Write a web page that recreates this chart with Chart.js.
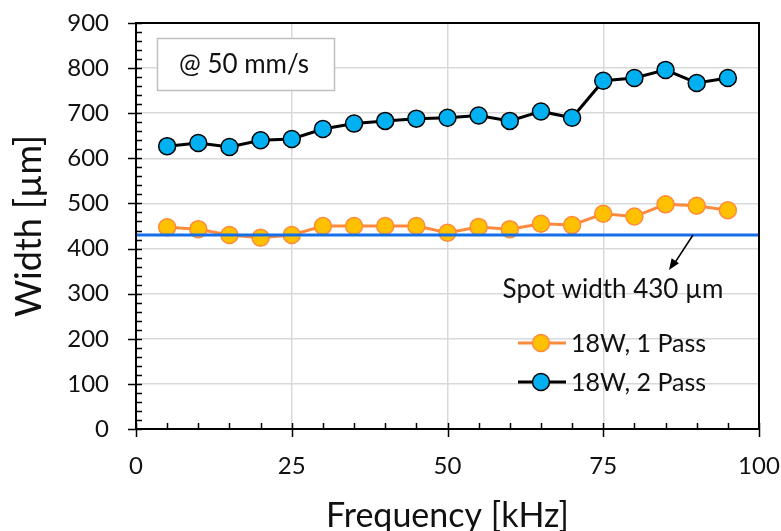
<!DOCTYPE html>
<html>
<head>
<meta charset="utf-8">
<script src="https://cdn.jsdelivr.net/npm/chart.js@4.4.1/dist/chart.umd.min.js"></script>
<style>
  html, body { margin: 0; padding: 0; background: #fff; }
  #wrap { width: 781px; height: 531px; }
</style>
</head>
<body>
<div id="wrap"><canvas id="chart" width="781" height="531"></canvas></div>
<script>
// Data
const frequency = [5, 10, 15, 20, 25, 30, 35, 40, 45, 50, 55, 60, 65, 70, 75, 80, 85, 90, 95];
const pass1Width = [447, 443, 430, 424, 430, 450, 450, 450, 450, 435, 448, 443, 455, 452, 477, 471, 498, 495, 485];
const pass2Width = [627, 634, 625, 640, 643, 665, 677, 683, 688, 690, 695, 683, 704, 690, 772, 778, 796, 767, 778];
const spotWidth = 430;
const spotRange = [0, 100];
const xTicks = [0, 25, 50, 75, 100];
const yTicks = [0, 100, 200, 300, 400, 500, 600, 700, 800, 900];
const seriesLabels = ["18W, 1 Pass", "18W, 2 Pass"];
const boxText = "@ 50 mm/s";
const spotText = "Spot width 430 \u00b5m";

const FONT = "Lato, 'Open Sans', sans-serif";
const TEXT = "#111";

function toPoints(xs, ys) {
    return xs.map((x, i) => ({ x: x, y: ys[i] }));
}

// minor/major ticks, frame, text box, arrow and legend
const decorations = {
    id: "decorations",
    afterDraw(chart) {
        const ctx = chart.ctx;
        const area = chart.chartArea;
        const xs = chart.scales.x;
        const ys = chart.scales.y;
        ctx.save();

        // frame
        ctx.strokeStyle = "#000";
        ctx.lineWidth = 2;
        ctx.strokeRect(area.left, area.top, area.right - area.left, area.bottom - area.top);

        // ticks
        ctx.lineWidth = 1.5;
        ctx.beginPath();
        for (let v = 0; v <= 900; v += 20) {
            const y = Math.round(ys.getPixelForValue(v)) + 0.5;
            const major = v % 100 === 0;
            ctx.moveTo(area.left - (major ? 8 : 0), y);
            ctx.lineTo(area.left + 6, y);
        }
        for (let v = 0; v <= 100; v += 5) {
            const x = Math.round(xs.getPixelForValue(v)) + 0.5;
            const major = v % 25 === 0;
            ctx.moveTo(x, area.bottom + (major ? 8 : 0));
            ctx.lineTo(x, area.bottom - 6);
        }
        ctx.stroke();

        // "@ 50 mm/s" box
        ctx.fillStyle = "#fff";
        ctx.fillRect(157, 38, 177, 52);
        ctx.strokeStyle = "#bfbfbf";
        ctx.lineWidth = 1.5;
        ctx.strokeRect(157.5, 38.5, 177, 52);
        ctx.fillStyle = TEXT;
        ctx.font = "26px " + FONT;
        ctx.textAlign = "center";
        ctx.textBaseline = "middle";
        ctx.fillText(boxText, 244, 65);

        // spot width label and arrow
        ctx.font = "26px " + FONT;
        ctx.fillText(spotText, 613, 290);
        const ax0 = 693, ay0 = ys.getPixelForValue(spotWidth);
        const ax1 = 669, ay1 = 270;
        ctx.strokeStyle = "#000";
        ctx.lineWidth = 1.5;
        ctx.beginPath();
        ctx.moveTo(ax0, ay0);
        ctx.lineTo(ax1 + 5, ay1 - 6);
        ctx.stroke();
        const ang = Math.atan2(ay1 - ay0, ax1 - ax0);
        ctx.fillStyle = "#000";
        ctx.beginPath();
        ctx.moveTo(ax1, ay1);
        ctx.lineTo(ax1 - 12 * Math.cos(ang - 0.38), ay1 - 12 * Math.sin(ang - 0.38));
        ctx.lineTo(ax1 - 12 * Math.cos(ang + 0.38), ay1 - 12 * Math.sin(ang + 0.38));
        ctx.closePath();
        ctx.fill();

        // legend
        const items = chart.data.datasets.filter(d => d.showInLegend);
        items.forEach((d, i) => {
            const y = 343 + i * 39;
            ctx.strokeStyle = d.borderColor;
            ctx.lineWidth = d.borderWidth;
            ctx.beginPath();
            ctx.moveTo(518, y);
            ctx.lineTo(566, y);
            ctx.stroke();
            ctx.beginPath();
            ctx.arc(541, y, d.pointRadius, 0, Math.PI * 2);
            ctx.fillStyle = d.pointBackgroundColor;
            ctx.fill();
            ctx.lineWidth = d.pointBorderWidth;
            ctx.strokeStyle = d.pointBorderColor;
            ctx.stroke();
            ctx.fillStyle = TEXT;
            ctx.font = "25px " + FONT;
            ctx.textAlign = "left";
            ctx.textBaseline = "middle";
            ctx.fillText(d.label, 571, y + 1);
        });
        ctx.restore();
    }
};

new Chart(document.getElementById("chart"), {
    type: "line",
    data: {
        datasets: [
            {
                label: "spot",
                data: toPoints(spotRange, [spotWidth, spotWidth]),
                borderColor: "#1570e8",
                borderWidth: 3,
                pointRadius: 0,
                order: 0,
                showInLegend: false
            },
            {
                label: seriesLabels[0],
                data: toPoints(frequency, pass1Width),
                borderColor: "#ff8a3d",
                borderWidth: 3,
                pointRadius: 8.5,
                pointBackgroundColor: "#ffc000",
                pointBorderColor: "#ff8a3d",
                pointBorderWidth: 1.5,
                order: 1,
                showInLegend: true
            },
            {
                label: seriesLabels[1],
                data: toPoints(frequency, pass2Width),
                borderColor: "#000",
                borderWidth: 3,
                pointRadius: 8.5,
                pointBackgroundColor: "#00b0f0",
                pointBorderColor: "#000",
                pointBorderWidth: 1.5,
                order: 2,
                showInLegend: true
            }
        ]
    },
    options: {
        responsive: false,
        animation: false,
        devicePixelRatio: 1,
        layout: { padding: { top: 23, right: 22, left: 0, bottom: 0 } },
        plugins: { legend: { display: false }, tooltip: { enabled: false } },
        scales: {
            x: {
                type: "linear",
                min: 0,
                max: 100,
                afterBuildTicks: s => { s.ticks = xTicks.map(v => ({ value: v })); },
                afterFit: s => { s.height = 102; s.paddingLeft = 0; s.paddingRight = 0; },
                grid: { color: "#d9d9d9", lineWidth: 1.5, drawTicks: false },
                border: { display: false },
                ticks: { color: TEXT, font: { family: FONT, size: 24 }, padding: 23, maxRotation: 0 },
                title: { display: true, text: "Frequency [kHz]", color: TEXT, font: { family: FONT, size: 34 }, padding: { top: 0, bottom: -5 } }
            },
            y: {
                type: "linear",
                min: 0,
                max: 900,
                afterBuildTicks: s => { s.ticks = yTicks.map(v => ({ value: v })); },
                afterFit: s => { s.width = 136; s.paddingTop = 0; s.paddingBottom = 0; },
                grid: { color: "#d9d9d9", lineWidth: 1.5, drawTicks: false },
                border: { display: false },
                ticks: { color: TEXT, font: { family: FONT, size: 24 }, padding: 27 },
                title: { display: true, text: "Width [\u00b5m]", color: TEXT, font: { family: FONT, size: 36 }, padding: { top: 8, bottom: 0 } }
            }
        }
    },
    plugins: [decorations]
});
</script>
</body>
</html>
